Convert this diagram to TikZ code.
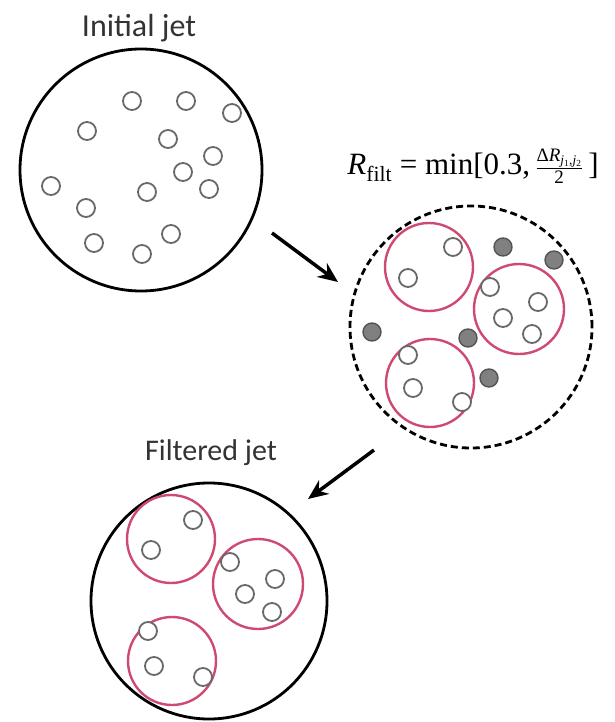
\documentclass[tikz,border=0pt]{standalone}
\usepackage{amsmath}
\usepackage{fontspec}
\setmainfont{Carlito}
\newfontfamily\timesfont{Liberation Serif}
\usepackage{tikz}
\usetikzlibrary{arrows.meta}
\usepackage{xcolor}
\definecolor{subjetred}{RGB}{206,74,112}
\definecolor{track}{RGB}{105,105,105}
\newcommand{\smallfrac}{\fontsize{19}{19}\selectfont}
\newcommand{\Rfilt}{{\timesfont\textit{R}\textsubscript{filt} = min[0.3,\,$\frac{\mbox{\timesfont\smallfrac Δ\textit{R}\textsubscript{\textit{j}\textsubscript{1},\textit{j}\textsubscript{2}}}}{\mbox{\timesfont\smallfrac 2}}$\,]}}

\begin{document}
\begin{tikzpicture}[x=1pt, y=-1pt,
    jet/.style={draw=black, line width=2.8pt},
    subjet/.style={draw=subjetred, line width=2.4pt},
    ptcl/.style={draw=track, line width=1.8pt, fill=white},
    drop/.style={draw=track!80!black, fill=track!85, line width=1.4pt},
    flow/.style={line width=3.5pt, -{Stealth[length=20pt, width=17pt]}},
    every node/.style={font=\fontsize{30}{32}\selectfont, text=black!80}]
    \useasboundingbox (0,0) rectangle (614,722);

    % Initial jet
    \node[anchor=base, font=\fontsize{32}{34}\selectfont] (lblinit) at (139,37) {Initial jet};
    \draw[jet] (141,170) circle[radius=121pt];
    \foreach \p in {(132,101),(186,101),(232,113),(87,131),(168,139),(213,156),(183,172),
                    (51,186),(147,192),(209,189),(86,208),(171,234),(94,243),(142,254)}
        \draw[ptcl] \p circle[radius=9pt];

    % Filtering step
    \node[anchor=base, font=\fontsize{31}{33}\selectfont, text=black] (formula) at (473,175) {\Rfilt};
    \draw[jet, dash pattern=on 7pt off 4pt] (471,327) circle[radius=121pt];
    \draw[subjet] (429,267) circle[radius=44pt];
    \draw[subjet] (519,309) circle[radius=45pt];
    \draw[subjet] (430,383) circle[radius=44pt];
    \foreach \p in {(453,247),(408,278),(490,287),(538,302),(503,318),(532,334),
                    (408,355),(413,388),(462,402)}
        \draw[ptcl] \p circle[radius=9pt];
    \foreach \p in {(503,247),(554,260),(372,332),(468,338),(489,378)}
        \draw[drop] \p circle[radius=9pt];

    % Filtered jet
    \node[anchor=base] (lblfilt) at (211,460) {Filtered jet};
    \draw[jet] (209,601) circle[radius=118pt];
    \draw[subjet] (171,539) circle[radius=44pt];
    \draw[subjet] (258,584) circle[radius=45pt];
    \draw[subjet] (172,661) circle[radius=44pt];
    \foreach \p in {(193,520),(151,550),(230,562),(275,579),(245,594),(272,612),
                    (148,631),(154,666),(203,677)}
        \draw[ptcl] \p circle[radius=9pt];

    % arrows
    \coordinate (a1s) at (272,233);
    \coordinate (a1e) at (338,282);
    \coordinate (a2s) at (374,450);
    \coordinate (a2e) at (308,499);
    \draw[flow] (a1s) -- (a1e);
    \draw[flow] (a2s) -- (a2e);
\end{tikzpicture}
\end{document}
